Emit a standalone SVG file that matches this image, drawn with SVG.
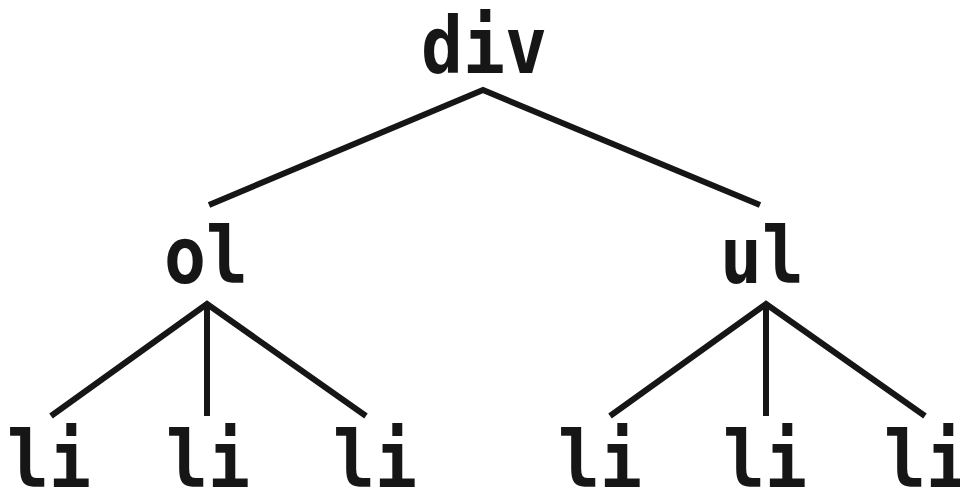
<svg xmlns="http://www.w3.org/2000/svg" width="960" height="487" viewBox="0 0 960 487">
<style>
.t{font-family:"DejaVu Sans Mono","Liberation Mono",monospace;font-weight:bold;font-size:79px;fill:#161616;text-anchor:middle}
.e{fill:none;stroke:#161616;stroke-width:6;stroke-linecap:butt;stroke-linejoin:miter}
</style>
<rect width="960" height="487" fill="#ffffff"/>
<g id="connectors">
<polyline class="e" points="209,205 483,90 760,205"/>
<polyline class="e" points="51,416 207,304 366,416"/>
<line class="e" x1="207" y1="304" x2="207" y2="416"/>
<polyline class="e" points="610,416 766,304 925,416"/>
<line class="e" x1="766" y1="304" x2="766" y2="416"/>
</g>
<g id="div"><text class="t" x="484" y="73" textLength="126" lengthAdjust="spacingAndGlyphs">div</text></g>
<g id="ol"><text class="t" x="206" y="283" textLength="84" lengthAdjust="spacingAndGlyphs">ol</text></g>
<g id="ul"><text class="t" x="762" y="283" textLength="84" lengthAdjust="spacingAndGlyphs">ul</text></g>
<g id="li1"><text class="t" x="49" y="487" textLength="84" lengthAdjust="spacingAndGlyphs">li</text></g>
<g id="li2"><text class="t" x="208" y="487" textLength="84" lengthAdjust="spacingAndGlyphs">li</text></g>
<g id="li3"><text class="t" x="375" y="487" textLength="84" lengthAdjust="spacingAndGlyphs">li</text></g>
<g id="li4"><text class="t" x="600" y="487" textLength="84" lengthAdjust="spacingAndGlyphs">li</text></g>
<g id="li5"><text class="t" x="765" y="487" textLength="84" lengthAdjust="spacingAndGlyphs">li</text></g>
<g id="li6"><text class="t" x="926" y="487" textLength="84" lengthAdjust="spacingAndGlyphs">li</text></g>
</svg>
